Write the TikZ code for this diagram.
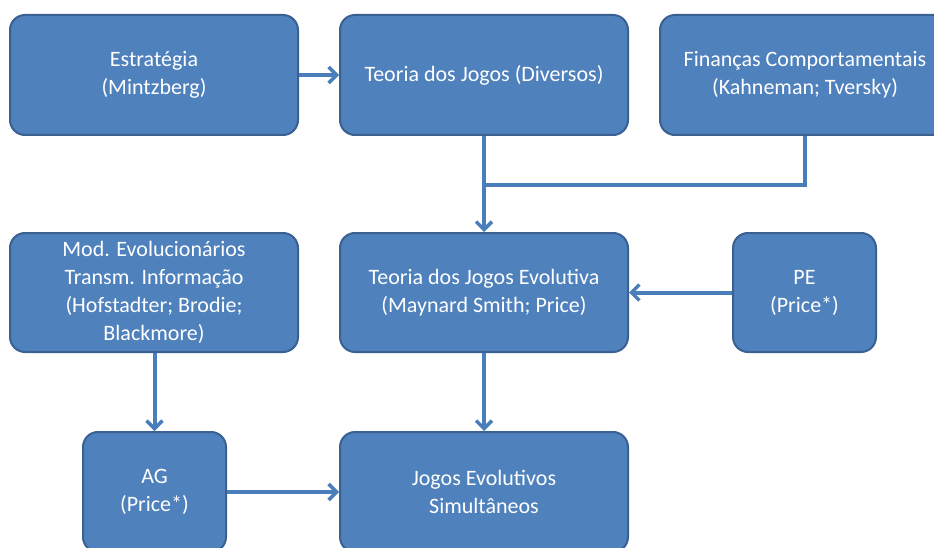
\documentclass[tikz,border=0pt]{standalone}
\usepackage{fontspec}
\setmainfont{Carlito}
\usetikzlibrary{arrows.meta}
\definecolor{boxfill}{HTML}{4F81BD}
\definecolor{boxline}{HTML}{3A6191}
\definecolor{conn}{HTML}{4A7EBB}
\begin{document}
\begin{tikzpicture}[x=1pt,y=-1pt,
  box/.style={draw=boxline,line width=2pt,fill=boxfill,rounded corners=15pt,
    text=white,align=center,font=\fontsize{22}{28}\selectfont,inner sep=0pt},
  conn/.style={draw=conn,line width=4pt},
  arr/.style={conn,-{Straight Barb[length=8pt,width=16pt,line width=3.5pt]}}]
\useasboundingbox (0,0) rectangle (934,548);
\clip (0,0) rectangle (934,548);
\node[box,minimum width=288pt,minimum height=120pt] (est) at (154,75) {Estratégia\\(Mintzberg)};
\node[box,minimum width=288pt,minimum height=120pt] (tj) at (484,75) {Teoria dos Jogos (Diversos)};
\node[box,minimum width=290pt,minimum height=120pt] (fin) at (805,75) {Finanças Comportamentais\\(Kahneman; Tversky)};
\node[box,minimum width=288pt,minimum height=119pt] (mod) at (154,292.5) {Mod. Evolucionários\\Transm. Informação\\(Hofstadter; Brodie;\\Blackmore)};
\node[box,minimum width=288pt,minimum height=119pt] (tje) at (484,292.5) {Teoria dos Jogos Evolutiva\\(Maynard Smith; Price)};
\node[box,minimum width=143pt,minimum height=119pt] (pe) at (804.5,292.5) {PE\\(Price*)};
\node[box,minimum width=143pt,minimum height=120pt] (ag) at (154.5,492) {AG\\(Price*)};
\node[box,minimum width=288pt,minimum height=120pt] (jes) at (484,492) {Jogos Evolutivos\\Simultâneos};
\coordinate (j) at (484,185);
\draw[arr] (est.east) -- (tj.west);
\draw[arr] (tj.south) -- (tje.north);
\draw[conn] (fin.south) |- (j);
\draw[arr] (pe.west) -- (tje.east);
\draw[arr] (mod.south -| ag.north) -- (ag.north);
\draw[arr] (tje.south) -- (jes.north);
\draw[arr] (ag.east) -- (jes.west);
\end{tikzpicture}
\end{document}
